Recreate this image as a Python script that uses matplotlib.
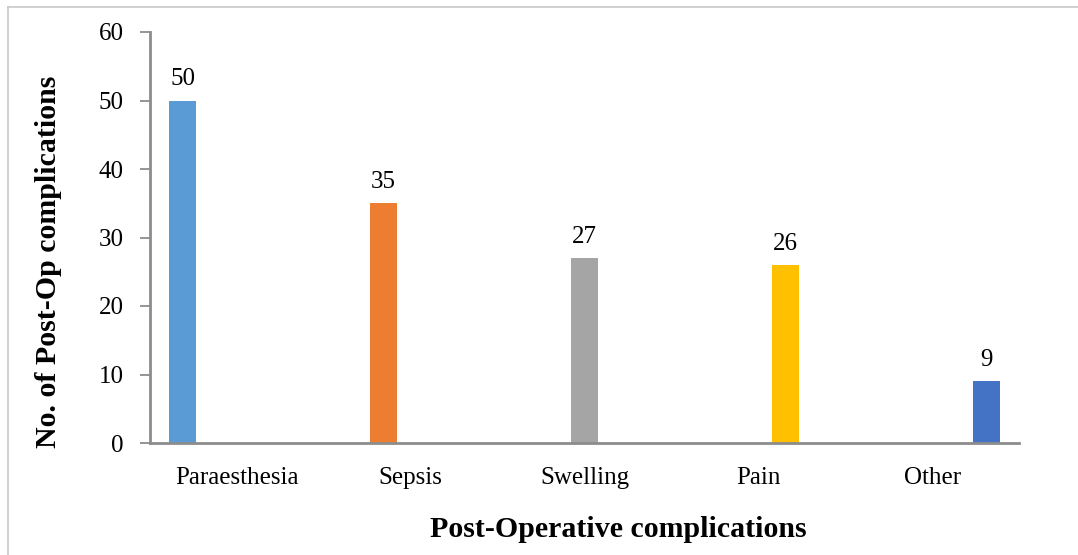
import numpy as np
import matplotlib
matplotlib.use('Agg')
import matplotlib.pyplot as plt
from matplotlib.lines import Line2D

# Datos del gráfico
categorias = ['Paraesthesia', 'Sepsis', 'Swelling', 'Pain', 'Other']
valores = [50, 35, 27, 26, 9]
colores = ['#5B9BD5', '#ED7D31', '#A5A5A5', '#FFC000', '#4472C4']
yticks = [0, 10, 20, 30, 40, 50, 60]

plt.rcParams['font.family'] = ['Liberation Serif', 'DejaVu Serif']

fig = plt.figure(figsize=(10.78, 5.55), dpi=100)
ax = fig.add_axes([150 / 1078, 1 - 443 / 555, 869 / 1078, 411 / 555])

# Barras agrupadas (una serie por categoría, estilo Excel)
x = np.arange(len(categorias))
ancho = 27 / 173.8
n = len(categorias)
for i, (v, c) in enumerate(zip(valores, colores)):
    pos = x[i] + (i - (n - 1) / 2) * ancho
    ax.bar(pos, v, width=ancho, color=c, zorder=2)
    ax.text(pos, v + 1.5, str(v), ha='center', va='bottom', fontsize=18)

ax.set_xlim(-0.5, n - 0.5)
ax.set_ylim(0, 60)
ax.set_yticks(yticks)
ax.set_xticks(x)
ax.set_xticklabels(categorias)
ax.tick_params(axis='x', length=0, pad=17, labelsize=18)
ax.tick_params(axis='y', length=7, width=1.3, color='#8c8c8c', labelsize=18, pad=12)

for s in ['top', 'right']:
    ax.spines[s].set_visible(False)
for s in ['left', 'bottom']:
    ax.spines[s].set_color('#8c8c8c')
    ax.spines[s].set_linewidth(2)

ax.set_xlabel('Post-Operative complications', fontsize=21.5, fontweight='bold',
              labelpad=20, x=0.5386)
ax.set_ylabel('No. of Post-Op complications', fontsize=21.5, fontweight='bold',
              labelpad=26, y=0.44)

# Borde exterior del gráfico
fig.add_artist(Line2D([8 / 1078, 8 / 1078], [0, 1 - 7 / 555], color='#c8c8c8', lw=1.2))
fig.add_artist(Line2D([8 / 1078, 1], [1 - 7 / 555, 1 - 7 / 555], color='#c8c8c8', lw=1.2))

fig.savefig('out.png', dpi=100)
